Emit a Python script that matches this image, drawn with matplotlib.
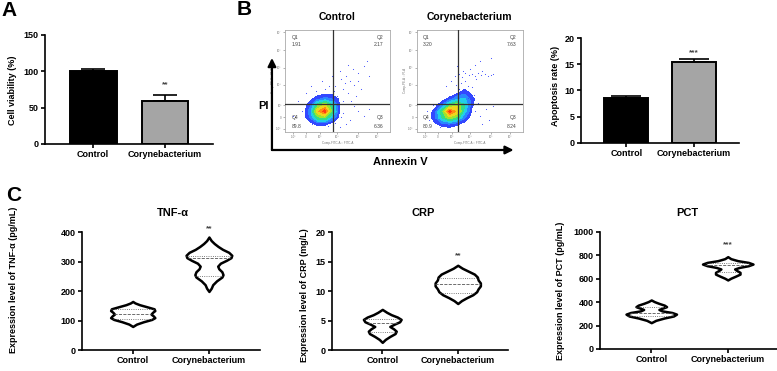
import numpy as np
import matplotlib
matplotlib.use('Agg')
import matplotlib.pyplot as plt
from matplotlib.patches import FancyArrowPatch

plt.rcParams['font.family'] = ['Liberation Sans', 'DejaVu Sans']
plt.rcParams['font.weight'] = 'bold'
plt.rcParams['axes.labelweight'] = 'bold'

groups = ['Control', 'Corynebacterium']

# A - cell viability
viability = [100, 59]
viability_err = [3.7, 9.0]

# B - apoptosis rate
apoptosis = [8.6, 15.5]
apoptosis_err = [0.4, 0.5]

# B - flow quadrant percentages (Q1, Q2, Q3, Q4)
quad_ctrl = ['1.91', '2.17', '6.36', '89.8']
quad_cory = ['3.20', '7.63', '8.24', '80.9']

# B - event density (rows: PI low->high, cols: Annexin low->high)
flow_x = [0.10, 0.17, 0.24, 0.31, 0.38, 0.45, 0.52, 0.59, 0.66]
flow_y = [0.02, 0.08, 0.14, 0.20, 0.26, 0.32, 0.38, 0.44]
dens_ctrl = [
    [0, 0, 0, 0, 0, 0, 0, 0, 0],
    [0, 0, 0.2, 0.6, 0.6, 0.2, 0, 0, 0],
    [0, 0, 1.0, 3.0, 3.5, 1.5, 0.2, 0, 0],
    [0, 0, 1.2, 5.0, 6.5, 3.0, 0.3, 0, 0],
    [0, 0, 0.8, 3.0, 4.5, 2.5, 0.4, 0, 0],
    [0, 0, 0.2, 0.8, 1.2, 0.9, 0.3, 0, 0],
    [0, 0, 0, 0.1, 0.2, 0.2, 0.1, 0, 0],
    [0, 0, 0, 0, 0, 0, 0, 0, 0],
]
dens_cory = [
    [0, 0, 0, 0, 0, 0, 0, 0, 0],
    [0, 0.3, 0.8, 1.0, 0.6, 0.2, 0, 0, 0],
    [0, 0.8, 2.5, 4.0, 3.0, 1.0, 0.1, 0, 0],
    [0, 0.6, 3.0, 6.5, 5.0, 2.0, 0.3, 0, 0],
    [0, 0.1, 1.0, 3.0, 4.0, 2.5, 0.5, 0, 0],
    [0, 0, 0.1, 0.6, 1.5, 1.8, 0.6, 0, 0],
    [0, 0, 0, 0, 0.3, 0.7, 0.3, 0, 0],
    [0, 0, 0, 0, 0, 0.2, 0.2, 0, 0],
]
# sparse events outside the main population
ctrl_dots_x = [0.50, 0.55, 0.60, 0.48, 0.62, 0.58, 0.66, 0.70, 0.52, 0.75, 0.72, 0.68, 0.55, 0.63,
               0.80, 0.78, 0.45, 0.47, 0.57, 0.65, 0.53, 0.60, 0.70, 0.42, 0.38,
               0.55, 0.62, 0.70, 0.58, 0.66, 0.75, 0.80, 0.52, 0.30, 0.25, 0.35, 0.20, 0.08, 0.12,
               0.19, 0.21, 0.26, 0.44, 0.50, 0.53, 0.33, 0.16, 0.48, 0.41]
ctrl_dots_y = [0.35, 0.42, 0.38, 0.45, 0.50, 0.55, 0.46, 0.58, 0.60, 0.65, 0.42, 0.35, 0.30, 0.30,
               0.55, 0.70, 0.55, 0.40, 0.48, 0.62, 0.52, 0.66, 0.50, 0.45, 0.42,
               0.18, 0.12, 0.20, 0.08, 0.25, 0.15, 0.22, 0.05, 0.40, 0.45, 0.50, 0.38, 0.15, 0.30,
               0.16, 0.24, 0.08, 0.35, 0.26, 0.14, 0.36, 0.20, 0.09, 0.06]
cory_dots_x = [0.36, 0.40, 0.43, 0.46, 0.49, 0.52, 0.55, 0.58, 0.61, 0.64, 0.67, 0.70, 0.72, 0.44,
               0.50, 0.56, 0.62, 0.45, 0.48, 0.42, 0.50, 0.46, 0.52, 0.40, 0.60, 0.70, 0.55,
               0.38, 0.32, 0.28, 0.55, 0.60, 0.65, 0.58, 0.68, 0.72, 0.62, 0.53,
               0.12, 0.10, 0.15, 0.22, 0.48, 0.51, 0.54, 0.40, 0.37]
cory_dots_y = [0.55, 0.57, 0.54, 0.58, 0.56, 0.57, 0.55, 0.58, 0.56, 0.57, 0.55, 0.56, 0.57, 0.60,
               0.62, 0.52, 0.60, 0.40, 0.45, 0.48, 0.38, 0.50, 0.44, 0.42, 0.70, 0.72, 0.66,
               0.65, 0.50, 0.45, 0.20, 0.15, 0.22, 0.28, 0.12, 0.25, 0.08, 0.30,
               0.12, 0.20, 0.26, 0.05, 0.33, 0.28, 0.36, 0.42, 0.46]

# C - violin outlines: levels and half widths (in category units), plus quartile lines
tnf_ctrl_lv = [80, 88, 96, 104, 110, 116, 122, 128, 134, 140, 146, 154, 160, 165]
tnf_ctrl_hw = [0, 0.05, 0.14, 0.25, 0.29, 0.27, 0.24, 0.26, 0.29, 0.28, 0.20, 0.09, 0.03, 0]
tnf_ctrl_q = [106, 123, 139]
tnf_cory_lv = [199, 210, 222, 235, 248, 256, 266, 276, 285, 295, 305, 314, 322, 332, 342, 352, 362, 372, 384]
tnf_cory_hw = [0, 0.03, 0.05, 0.10, 0.17, 0.185, 0.17, 0.13, 0.115, 0.15, 0.23, 0.29, 0.30, 0.26,
               0.18, 0.12, 0.07, 0.03, 0]
tnf_cory_q = [252, 312, 320]

crp_ctrl_lv = [1.3, 1.8, 2.3, 2.8, 3.2, 3.6, 4.0, 4.4, 4.8, 5.2, 5.6, 6.0, 6.4, 6.9]
crp_ctrl_hw = [0, 0.04, 0.10, 0.17, 0.185, 0.15, 0.10, 0.16, 0.23, 0.25, 0.20, 0.12, 0.06, 0]
crp_ctrl_q = [3.0, 4.6, 5.3]
crp_cory_lv = [7.9, 8.4, 8.9, 9.4, 9.9, 10.4, 10.9, 11.4, 11.9, 12.4, 12.9, 13.4, 13.9, 14.4]
crp_cory_hw = [0, 0.05, 0.12, 0.20, 0.25, 0.27, 0.30, 0.30, 0.27, 0.26, 0.22, 0.14, 0.06, 0]
crp_cory_q = [9.75, 11.15, 12.3]

pct_ctrl_lv = [225, 245, 265, 282, 298, 312, 326, 338, 350, 362, 375, 390, 405, 419]
pct_ctrl_hw = [0, 0.06, 0.17, 0.29, 0.33, 0.27, 0.14, 0.10, 0.15, 0.20, 0.17, 0.10, 0.04, 0]
pct_ctrl_q = [285, 310, 362]
pct_cory_lv = [590, 605, 622, 640, 655, 670, 684, 697, 712, 726, 740, 755, 772, 789]
pct_cory_hw = [0, 0.04, 0.10, 0.16, 0.16, 0.12, 0.09, 0.15, 0.27, 0.33, 0.27, 0.13, 0.04, 0]
pct_cory_q = [661, 718, 738]


def prism(ax):
    for s in ['top', 'right']:
        ax.spines[s].set_visible(False)
    for s in ['left', 'bottom']:
        ax.spines[s].set_linewidth(1.2)
    ax.tick_params(direction='out', length=3, width=1.2, labelsize=6.5, pad=1.5)
    ax.set_xticks([0, 1])
    ax.set_xticklabels(groups)
    ax.set_xlim(-0.67, 1.67)
    for lb in ax.get_xticklabels() + ax.get_yticklabels():
        lb.set_fontweight('bold')


def bar_panel(ax, vals, errs, top, yticks, ylabel, lab_xy, star, star_y, capsize):
    x = np.arange(2)
    ax.bar(x, vals, width=0.65, color=['black', '#a5a5a5'], edgecolor='black', linewidth=1.4, zorder=2)
    ax.errorbar(x, vals, yerr=[[0, 0], errs], fmt='none', ecolor='black',
                elinewidth=1.2, capsize=capsize, capthick=1.2, zorder=1)
    ax.set_ylim(0, top)
    ax.set_yticks(yticks)
    prism(ax)
    ax.set_ylabel(ylabel, fontsize=6.5)
    ax.yaxis.set_label_coords(*lab_xy)
    ax.text(1, star_y, star, ha='center', va='center', fontsize=6, color='#444444')


def violin(ax, pos, lv, hw, q):
    lv = np.array(lv)
    hw = np.array(hw)
    ax.fill_betweenx(lv, pos - hw, pos + hw, facecolor='white', edgecolor='black', linewidth=1.8, zorder=2)
    for i, v in enumerate(q):
        w = np.interp(v, lv, hw)
        ax.plot([pos - w, pos + w], [v, v], color='#555555', lw=0.6,
                ls='--' if i == 1 else ':', zorder=3)


def violin_panel(ax, title, data, top, yticks, ylabel, lab_xy, star, star_y, title_x):
    for pos, (lv, hw, q) in enumerate(data):
        violin(ax, pos, lv, hw, q)
    ax.set_ylim(0, top)
    ax.set_yticks(yticks)
    prism(ax)
    ax.set_ylabel(ylabel, fontsize=6.5)
    ax.yaxis.set_label_coords(*lab_xy)
    ax.text(title_x, 1.16, title, transform=ax.transAxes, ha='center', va='center', fontsize=8)
    ax.text(1, star_y, star, ha='center', va='center', fontsize=6, color='#444444', clip_on=False)


blob_levels = [0.4, 0.9, 1.6, 2.4, 3.3, 4.2, 5.2, 6.0, 8.0]
blob_colors = ['#3348ff', '#2a86ff', '#22cfe8', '#35dd86', '#9de52e', '#f0d61c', '#ff8c12', '#ff3a10']


def flow_panel(rect, dens, dx, dy, quad, vline, hline, title):
    ax = fig.add_axes(rect)
    ax.contourf(flow_x, flow_y, dens, levels=blob_levels, colors=blob_colors, zorder=1)
    ax.scatter(dx, dy, s=0.6, color='#3545ff', linewidths=0, zorder=2)
    ax.axvline(vline, color='#333333', lw=0.9, zorder=3)
    ax.axhline(hline, color='#333333', lw=0.9, zorder=3)
    ax.set_xlim(0, 1)
    ax.set_ylim(0, 1)
    for s in ax.spines.values():
        s.set_color('#aaaaaa')
        s.set_linewidth(0.6)
    ax.set_yticks([0.03, 0.14, 0.26, 0.46, 0.63, 0.80, 0.98])
    ax.set_yticklabels(['-10³', '0', '10³', '10⁴', '10⁵', '10⁶', '10⁷'])
    ax.set_xticks([0.08, 0.2, 0.33, 0.5, 0.7, 0.88])
    ax.set_xticklabels(['-10³', '0', '10³', '10⁴', '10⁵', '10⁶'])
    ax.tick_params(length=1.5, width=0.4, labelsize=2.2, colors='#777777', pad=1)
    for lb in ax.get_xticklabels() + ax.get_yticklabels():
        lb.set_fontweight('normal')
    ax.set_xlabel('Comp-FITC-A :: FITC-A', fontsize=2.2, fontweight='normal', color='#777777', labelpad=1)
    ax.set_ylabel('Comp-PE-A :: PI-A', fontsize=2.2, fontweight='normal', color='#777777', labelpad=1)
    kw = dict(transform=ax.transAxes, fontsize=3.6, fontweight='normal', color='#444444', va='center')
    ax.text(0.06, 0.93, 'Q1', ha='left', **kw)
    ax.text(0.06, 0.86, quad[0], ha='left', **kw)
    ax.text(0.94, 0.93, 'Q2', ha='right', **kw)
    ax.text(0.94, 0.86, quad[1], ha='right', **kw)
    ax.text(0.94, 0.135, 'Q3', ha='right', **kw)
    ax.text(0.94, 0.056, quad[2], ha='right', **kw)
    ax.text(0.06, 0.135, 'Q4', ha='left', **kw)
    ax.text(0.06, 0.056, quad[3], ha='left', **kw)
    fig.text(rect[0] + rect[2] / 2, 0.954, title, ha='center', va='center', fontsize=7.5)


fig = plt.figure(figsize=(7.77, 3.71), dpi=100)

# panel A
axA = fig.add_axes([0.0579, 0.6119, 0.2166, 0.2938])
bar_panel(axA, viability, viability_err, 150, [0, 50, 100, 150], 'Cell viability (%)',
          (-0.166, 0.495), '**', 81, 8.4)

# panel B
flow_panel([0.3668, 0.645, 0.1351, 0.2741], dens_ctrl, ctrl_dots_x, ctrl_dots_y, quad_ctrl, 0.46, 0.27, 'Control')
flow_panel([0.5363, 0.645, 0.1364, 0.2741], dens_cory, cory_dots_x, cory_dots_y, quad_cory, 0.39, 0.275,
           'Corynebacterium')
fig.add_artist(FancyArrowPatch((0.35, 0.5957), (0.35, 0.8437), transform=fig.transFigure,
                               arrowstyle='-|>', mutation_scale=12, lw=1.6, color='black', shrinkA=0, shrinkB=0))
fig.add_artist(FancyArrowPatch((0.35, 0.5957), (0.661, 0.5957), transform=fig.transFigure,
                               arrowstyle='-|>', mutation_scale=12, lw=1.6, color='black', shrinkA=0, shrinkB=0))
fig.text(0.3385, 0.7143, 'PI', ha='center', va='center', fontsize=8)
fig.text(0.5148, 0.5633, 'Annexin V', ha='center', va='center', fontsize=8)

axB = fig.add_axes([0.7478, 0.6154, 0.2033, 0.2814])
bar_panel(axB, apoptosis, apoptosis_err, 20, [0, 5, 10, 15, 20], 'Apoptosis rate (%)',
          (-0.133, 0.546), '***', 17.2, 10.5)

# panel C
axC1 = fig.add_axes([0.1051, 0.0566, 0.2295, 0.3172])
violin_panel(axC1, 'TNF-α', [(tnf_ctrl_lv, tnf_ctrl_hw, tnf_ctrl_q), (tnf_cory_lv, tnf_cory_hw, tnf_cory_q)],
             400, [0, 100, 200, 300, 400], 'Expression level of TNF-α (pg/mL)', (-0.357, 0.595),
             '**', 411, 0.512)
axC2 = fig.add_axes([0.4269, 0.0566, 0.2273, 0.3172])
violin_panel(axC2, 'CRP', [(crp_ctrl_lv, crp_ctrl_hw, crp_ctrl_q), (crp_cory_lv, crp_cory_hw, crp_cory_q)],
             20, [0, 5, 10, 15, 20], 'Expression level of CRP (mg/L)', (-0.129, 0.467),
             '**', 16.1, 0.517)
axC3 = fig.add_axes([0.7722, 0.0593, 0.2304, 0.3154])
violin_panel(axC3, 'PCT', [(pct_ctrl_lv, pct_ctrl_hw, pct_ctrl_q), (pct_cory_lv, pct_cory_hw, pct_cory_q)],
             1000, [0, 200, 400, 600, 800, 1000], 'Expression level of PCT (pg/mL)', (-0.196, 0.5),
             '***', 889, 0.49)

# panel letters
fig.text(0.011, 0.972, 'A', ha='center', va='center', fontsize=15)
fig.text(0.314, 0.974, 'B', ha='center', va='center', fontsize=15)
fig.text(0.018, 0.473, 'C', ha='center', va='center', fontsize=15)

fig.savefig('out.png', dpi=100)
